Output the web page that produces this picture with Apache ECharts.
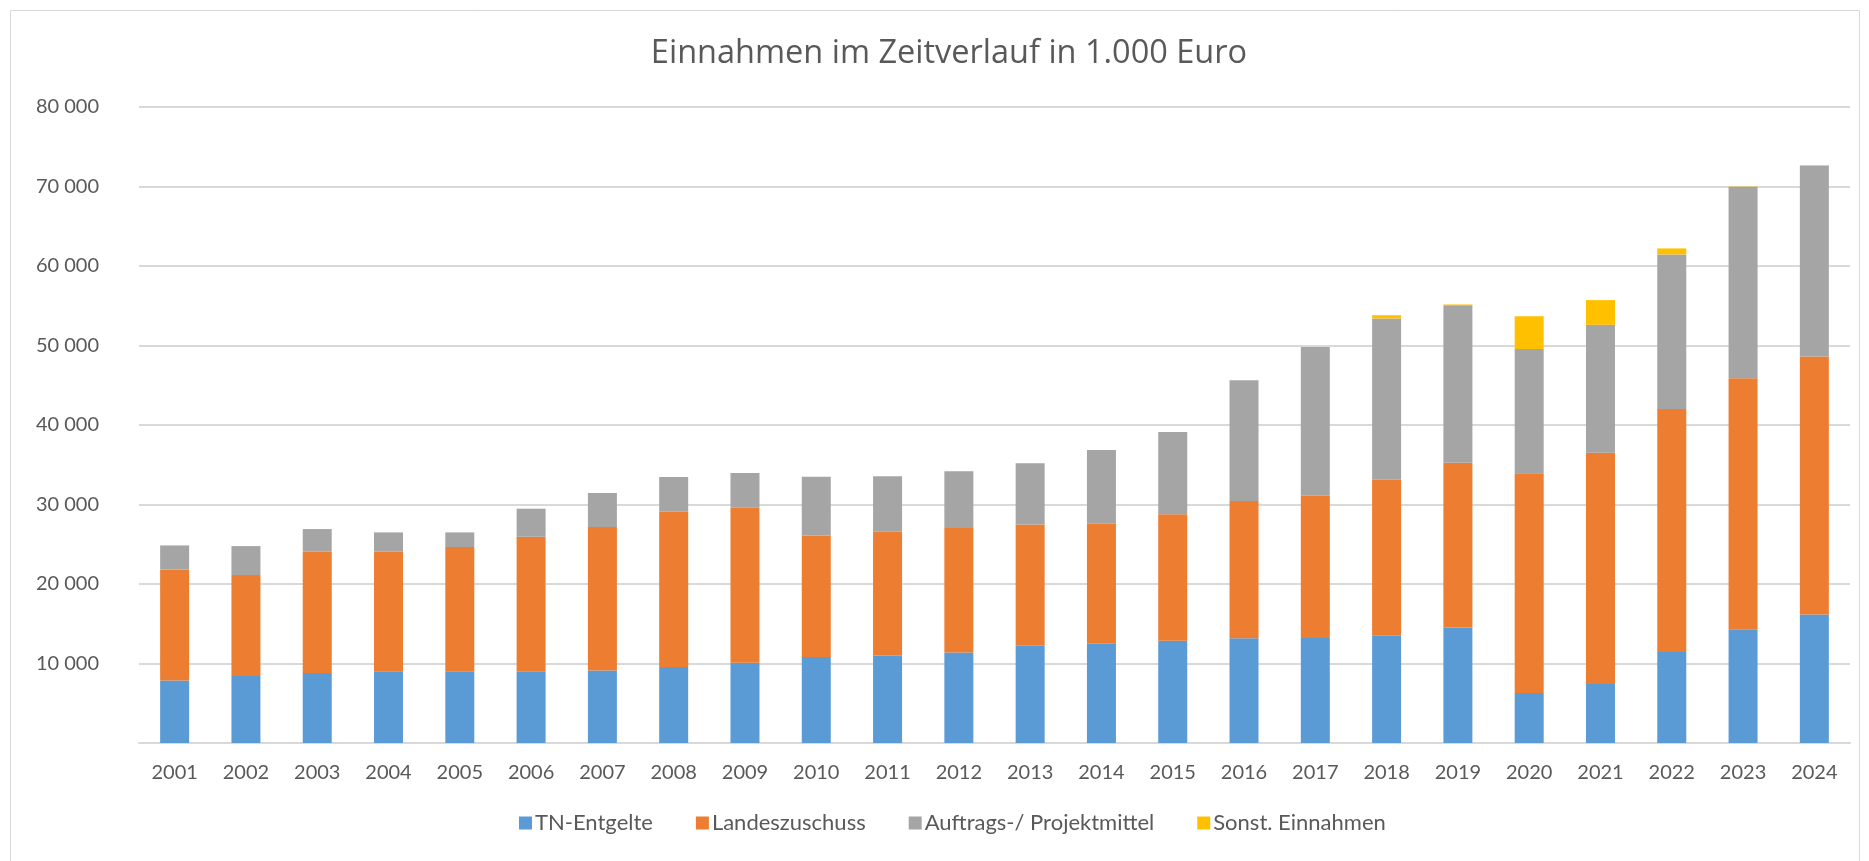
<!DOCTYPE html>
<html>
<head>
<meta charset="utf-8">
<script src="https://cdn.jsdelivr.net/npm/echarts@6/dist/echarts.min.js"></script>
<style>
html,body{margin:0;padding:0;background:#fff;}
#chart{width:1869px;height:861px;}
</style>
</head>
<body>
<div id="chart"></div>
<script>
const years = ['2001','2002','2003','2004','2005','2006','2007','2008','2009','2010','2011','2012','2013','2014','2015','2016','2017','2018','2019','2020','2021','2022','2023','2024'];
const tnEntgelte = [7850, 8440, 8820, 9030, 9030, 9030, 9110, 9570, 10080, 10830, 11000, 11380, 12220, 12470, 12850, 13180, 13220, 13480, 14530, 6300, 7430, 11460, 14320, 16160];
const landeszuschuss = [13980, 12680, 15240, 15030, 15610, 16910, 18050, 19520, 19520, 15280, 15570, 15660, 15280, 15110, 15910, 17260, 17890, 19640, 20730, 27620, 29090, 30560, 31560, 32450];
const projektmittel = [3020, 3650, 2850, 2430, 1850, 3530, 4280, 4370, 4360, 7390, 6970, 7130, 7680, 9280, 10370, 15190, 18710, 20280, 19800, 15650, 16080, 19440, 24100, 24010];
const sonstige = [0, 0, 0, 0, 0, 0, 0, 0, 0, 0, 0, 0, 0, 0, 0, 0, 0, 410, 100, 4120, 3110, 750, 40, 80];
const seriesNames = ['TN-Entgelte', 'Landeszuschuss', 'Auftrags-/ Projektmittel', 'Sonst. Einnahmen'];
const titleText = 'Einnahmen im Zeitverlauf in 1.000 Euro';

const colors = ['#5B9BD5', '#ED7D31', '#A5A5A5', '#FFC000'];
const font = 'Lato';
const chart = echarts.init(document.getElementById('chart'));
const dataSets = [tnEntgelte, landeszuschuss, projektmittel, sonstige];

chart.setOption({
  animation: false,
  color: colors,
  textStyle: {fontFamily: font},
  graphic: [{
    type: 'rect', shape: {x: 10.5, y: 10.5, width: 1849, height: 860},
    style: {fill: 'none', stroke: '#D9D9D9', lineWidth: 1}, silent: true
  }],
  title: {
    text: titleText,
    left: 944, top: 32, textAlign: 'center',
    textStyle: {fontFamily: 'Open Sans', fontSize: 32.5, fontWeight: 'normal', color: '#595959'}
  },
  legend: {
    data: seriesNames,
    bottom: 22, left: 514,
    itemWidth: 13, itemHeight: 13, itemGap: 43,
    icon: 'rect',
    textStyle: {fontFamily: font, fontSize: 22, color: '#595959', padding: [0,0,0,-2]}
  },
  grid: {left: 139, right: 19, top: 107, bottom: 118, containLabel: false},
  xAxis: {
    type: 'category', data: years,
    axisLine: {lineStyle: {color: '#D9D9D9', width: 2}},
    axisTick: {show: false},
    axisLabel: {fontFamily: font, fontSize: 20, color: '#595959', margin: 20}
  },
  yAxis: {
    type: 'value', min: 0, max: 80000, interval: 10000,
    axisLine: {show: false}, axisTick: {show: false},
    splitLine: {lineStyle: {color: '#D9D9D9', width: 2}},
    axisLabel: {
      fontFamily: font, fontSize: 20, color: '#595959', margin: 40,
      formatter: v => v === 0 ? '' : String(v).replace(/\B(?=(\d{3})+(?!\d))/g, ' ')
    }
  },
  series: seriesNames.map((n, i) => ({
    name: n, type: 'bar', stack: 'total', barWidth: 29,
    data: dataSets[i],
    itemStyle: {color: colors[i]}
  }))
});
</script>
</body>
</html>
